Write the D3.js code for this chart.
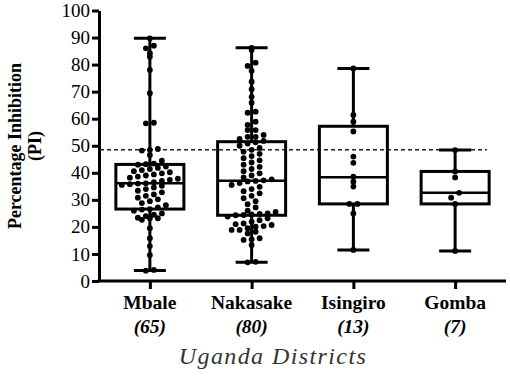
<!DOCTYPE html>
<html>
<head>
<meta charset="utf-8">
<script src="https://cdn.jsdelivr.net/npm/d3@7"></script>
<style>
  body { margin: 0; background: #fff; }
</style>
</head>
<body>
<div id="container"></div>
<script>
let w = 510;
let h = 376;
let serif = "'Liberation Serif'";

// data
let districts = ["Mbale", "Nakasake", "Isingiro", "Gomba"];
let counts = ["(65)", "(80)", "(13)", "(7)"];
let yTicks = [0, 10, 20, 30, 40, 50, 60, 70, 80, 90, 100];
let threshold = 48.5;

let mbale = [3.8, 4.1, 9.6, 12.9, 15.8, 19.5, 22.6, 23.2, 23.2, 23.4, 24.0, 24.5, 25.0,
  26.0, 26.4, 26.6, 27.2, 28.0, 28.8, 29.5, 30.2, 30.8, 31.5, 32.0, 32.8, 33.4, 34.0, 34.6, 35.2,
  35.5, 35.8, 36.0, 36.1, 36.5, 37.0, 37.4, 37.8, 38.2, 38.6, 39.0, 39.4, 39.8, 40.2, 40.6, 41.0,
  41.4, 41.8, 42.3, 43.0, 43.2, 43.4,
  44.5, 46.6, 48.2, 48.5, 48.8, 58.3, 58.5, 69.4, 78.0, 82.9, 84.2, 86.0, 87.0, 89.7];
let nakasake = [6.9, 7.1, 13.3, 15.2, 15.4, 15.8, 17.6, 18.2, 18.9, 18.9, 19.5, 20.1, 20.3, 20.7,
  21.0, 21.3, 21.9, 22.5, 23.2, 23.8,
  24.3, 24.4, 24.6, 24.8, 25.0, 25.5, 26.0, 27.2, 28.4, 29.5, 30.6, 31.5, 32.4, 33.2, 34.0, 34.8,
  35.5, 36.2, 36.8, 37.0, 37.2, 37.6, 38.3, 39.0, 39.8, 40.6, 41.4, 42.2, 43.0, 43.8, 44.6, 45.4,
  46.2, 47.0, 47.8, 48.5, 49.2, 50.0, 50.8, 51.3,
  51.8, 52.5, 53.3, 53.3, 54.0, 55.8, 55.8, 57.7, 58.9, 62.2, 62.6, 65.9, 68.1, 70.9, 73.7, 77.7,
  79.5, 80.7, 85.4, 86.2];
let isingiro = [11.5, 25.0, 28.5, 28.5, 34.9, 36.7, 38.6, 43.7, 46.0, 55.3, 58.9, 61.4, 78.6];
let gomba = [11.1, 28.5, 30.8, 32.6, 38.3, 40.5, 48.4];

// box stats: min, q1, median, q3, max
let boxMin = [3.9, 6.9, 11.5, 11.1];
let boxQ1 = [26.6, 24.3, 28.5, 28.5];
let boxMed = [36.1, 37.1, 38.4, 32.6];
let boxQ3 = [43.1, 51.5, 57.2, 40.5];
let boxMax = [89.7, 86.2, 78.6, 48.4];

let groups = [mbale, nakasake, isingiro, gomba];

let viz = d3.select("#container")
  .append("svg")
    .attr("width", w)
    .attr("height", h)
    .style("background-color", "white");

let xScale = d3.scalePoint().domain(districts).range([99, 506]).padding(0.5);
let yScale = d3.scaleLinear().domain([0, 100]).range([281, 10.5]);

let boxHalf = 34;
let capHalf = 16;
let r = 2.9;

// y axis
let yAxis = d3.axisLeft(yScale).tickValues(yTicks).tickSize(7).tickPadding(2).tickSizeOuter(0);
let yAxisGroup = viz.append("g")
  .attr("transform", "translate(99,0)")
  .call(yAxis);
yAxisGroup.select(".domain").attr("stroke", "#000").attr("stroke-width", 3);
yAxisGroup.selectAll(".tick line").attr("stroke", "#000").attr("stroke-width", 3);
yAxisGroup.selectAll(".tick text")
  .attr("fill", "#000")
  .style("font-family", serif)
  .style("font-size", "19px");

// x axis
let xAxis = d3.axisBottom(xScale).tickSize(8).tickFormat("").tickSizeOuter(0);
let xAxisGroup = viz.append("g")
  .attr("transform", "translate(0,281)")
  .call(xAxis);
xAxisGroup.select(".domain").attr("stroke", "#000").attr("stroke-width", 3)
  .attr("d", "M97.5,0H506");
xAxisGroup.selectAll(".tick line").attr("stroke", "#000").attr("stroke-width", 3);

// category labels
viz.selectAll(".catLabel").data(districts).enter()
  .append("text")
    .attr("class", "catLabel")
    .attr("x", d => xScale(d))
    .attr("y", 309)
    .attr("text-anchor", "middle")
    .style("font-family", serif)
    .style("font-weight", "bold")
    .style("font-size", "19.5px")
    .text(d => d);

viz.selectAll(".countLabel").data(counts).enter()
  .append("text")
    .attr("class", "countLabel")
    .attr("x", (d, i) => xScale(districts[i]))
    .attr("y", 333)
    .attr("text-anchor", "middle")
    .style("font-family", serif)
    .style("font-weight", "bold")
    .style("font-style", "italic")
    .style("font-size", "19.5px")
    .text(d => d);

viz.append("text")
  .attr("x", 273)
  .attr("y", 364)
  .attr("text-anchor", "middle")
  .attr("fill", "#333")
  .style("font-family", serif)
  .style("font-style", "italic")
  .style("font-size", "24px")
  .style("letter-spacing", "1.4px")
  .text("Uganda Districts");

// y title
let yTitle = viz.append("text")
  .attr("transform", "translate(0,146) rotate(-90)")
  .attr("text-anchor", "middle")
  .style("font-family", serif)
  .style("font-weight", "bold")
  .style("font-size", "18px");
yTitle.append("tspan").attr("x", 0).attr("y", 21).text("Percentage Inhibition");
yTitle.append("tspan").attr("x", 0).attr("y", 41).text("(PI)");

// dashed reference line
viz.append("line")
  .attr("x1", 100).attr("x2", 487)
  .attr("y1", yScale(threshold)).attr("y2", yScale(threshold))
  .attr("stroke", "#222")
  .attr("stroke-width", 1.5)
  .attr("stroke-dasharray", "4,3");

// boxes
let boxes = viz.selectAll(".box").data(districts).enter()
  .append("g")
    .attr("class", "box")
    .attr("transform", d => "translate(" + xScale(d) + ",0)");

boxes.append("line")
  .attr("x1", 0).attr("x2", 0)
  .attr("y1", (d, i) => yScale(boxMax[i]))
  .attr("y2", (d, i) => yScale(boxQ3[i]))
  .attr("stroke", "#000").attr("stroke-width", 3);
boxes.append("line")
  .attr("x1", 0).attr("x2", 0)
  .attr("y1", (d, i) => yScale(boxQ1[i]))
  .attr("y2", (d, i) => yScale(boxMin[i]))
  .attr("stroke", "#000").attr("stroke-width", 3);
boxes.append("line")
  .attr("x1", -capHalf).attr("x2", capHalf)
  .attr("y1", (d, i) => yScale(boxMax[i]))
  .attr("y2", (d, i) => yScale(boxMax[i]))
  .attr("stroke", "#000").attr("stroke-width", 3);
boxes.append("line")
  .attr("x1", -capHalf).attr("x2", capHalf)
  .attr("y1", (d, i) => yScale(boxMin[i]))
  .attr("y2", (d, i) => yScale(boxMin[i]))
  .attr("stroke", "#000").attr("stroke-width", 3);
boxes.append("rect")
  .attr("x", -boxHalf)
  .attr("width", boxHalf * 2)
  .attr("y", (d, i) => yScale(boxQ3[i]))
  .attr("height", (d, i) => yScale(boxQ1[i]) - yScale(boxQ3[i]))
  .attr("fill", "none")
  .attr("stroke", "#000").attr("stroke-width", 3);
boxes.append("line")
  .attr("x1", -boxHalf).attr("x2", boxHalf)
  .attr("y1", (d, i) => yScale(boxMed[i]))
  .attr("y2", (d, i) => yScale(boxMed[i]))
  .attr("stroke", "#000").attr("stroke-width", 2.5);

// points binned into rows, each row spread sideways (prism-like scatter)
function rows(values, cx){
  let binH = 6.5;
  let step = 8;
  let bins = d3.group(values.slice().sort((a, b) => a - b), v => Math.round(yScale(v) / binH));
  let pts = [];
  bins.forEach(row => {
    let n = row.length;
    row.forEach((v, j) => {
      pts.push({x: cx + (j - (n - 1) / 2) * step, y: yScale(v)});
    });
  });
  return pts;
}

groups.forEach((vals, i) => {
  let pts = rows(vals, xScale(districts[i]));
  viz.append("g").selectAll("circle").data(pts).enter()
    .append("circle")
      .attr("cx", d => d.x)
      .attr("cy", d => d.y)
      .attr("r", r)
      .attr("fill", "#000");
});
</script>
</body>
</html>
